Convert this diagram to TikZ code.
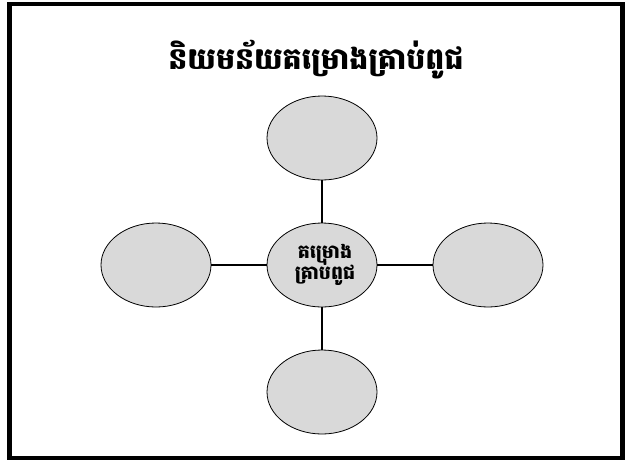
\documentclass[tikz,border=0pt]{standalone}
\usepackage{fontspec}
\usetikzlibrary{shapes.geometric}
\newfontfamily\khmerfont[Script=Khmer]{Battambang}
\begin{document}
\begin{tikzpicture}[x=1pt,y=-1pt,
  bubble/.style={ellipse,draw=black,line width=0.8pt,fill=gray!30,minimum width=110pt,minimum height=84pt,inner sep=0pt},
  link/.style={draw=black,line width=1.3pt}]
\useasboundingbox (0,0) rectangle (626,461);
\fill[white] (0,0) rectangle (626,461);
\draw[line width=4.5pt] (9.5,4) rectangle (622.5,458);
\node[font=\khmerfont\bfseries\fontsize{30}{36}\selectfont] (title) at (316,60) {និយមន័យគម្រោងគ្រាប់ពូជ};
\node[bubble,label={[align=center,xshift=3pt,font=\khmerfont\bfseries\fontsize{19}{23}\selectfont]center:{គម្រោង\\[-2pt]គ្រាប់ពូជ}}] (c) at (322,265) {};
\node[bubble] (t) at (322,138) {};
\node[bubble] (l) at (156,265) {};
\node[bubble] (r) at (488,265) {};
\node[bubble] (b) at (322,392) {};
\draw[link] (t) -- (c);
\draw[link] (l) -- (c);
\draw[link] (r) -- (c);
\draw[link] (b) -- (c);
\end{tikzpicture}
\end{document}
